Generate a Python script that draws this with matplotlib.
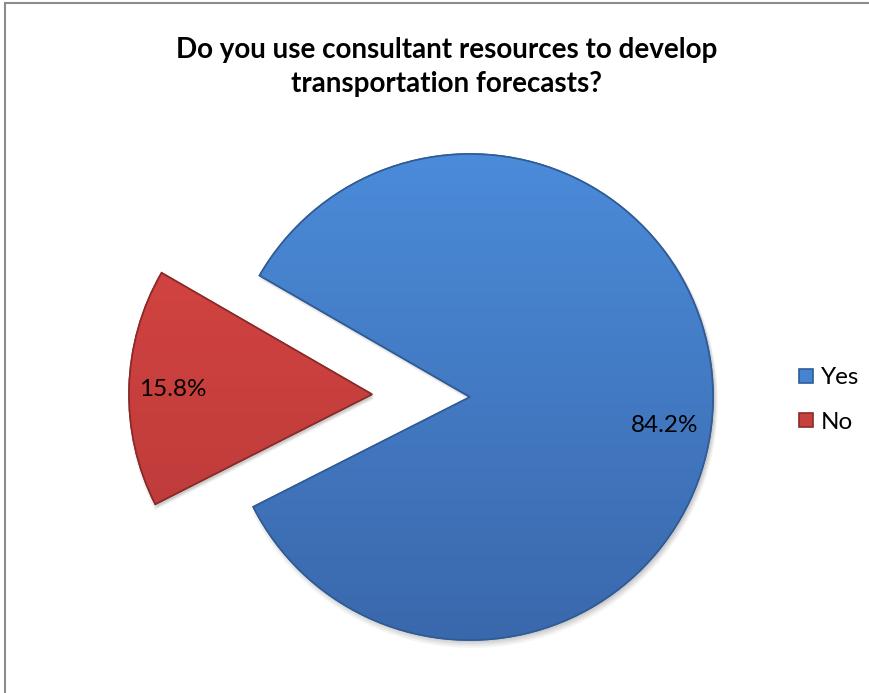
import matplotlib.pyplot as plt
from matplotlib.patches import Rectangle, Wedge
from matplotlib.colors import LinearSegmentedColormap
import numpy as np

# Survey answers
categories = ['Yes', 'No']
shares = [84.2, 15.8]
colors = ['#4683D0', '#C6403D']
edges = ['#2F5C96', '#8A2B29']
# top / bottom shades for the gradient fill
shades = [('#4B8BD9', '#3A68AC'), ('#DA4644', '#B53937')]

W, H = 870, 693
fig = plt.figure(figsize=(W / 100, H / 100), dpi=100)
fig.patch.set_facecolor('white')

# one axes covering the whole figure, data units = pixels
ax = fig.add_axes([0, 0, 1, 1])

cx, cy, r = 470, H - 397, 243
pull = 98  # how far the "No" slice is pulled out (pixels)

wedges, texts, autotexts = ax.pie(
    shares, colors=colors, explode=[0, pull], startangle=150,
    counterclock=False, center=(cx, cy), radius=r, frame=True,
    autopct='%1.1f%%', pctdistance=0.8,
    wedgeprops=dict(linewidth=1.2, zorder=2),
    textprops=dict(fontsize=17.5, family='Lato', color='black', zorder=5))
for w, ec in zip(wedges, edges):
    w.set_edgecolor(ec)
autotexts[0].set_y(autotexts[0].get_position()[1] - 23)
autotexts[1].set_x(autotexts[1].get_position()[0] - 5)

# vertical gradient inside each slice
grad = np.linspace(1, 0, 256).reshape(-1, 1)
for w, (top, bot) in zip(wedges, shades):
    cmap = LinearSegmentedColormap.from_list('g', [bot, top])
    x0, y0 = w.center
    im = ax.imshow(grad, cmap=cmap, vmin=0, vmax=1, aspect='auto',
                   extent=(x0 - w.r, x0 + w.r, y0 - w.r, y0 + w.r),
                   zorder=2.5, interpolation='bilinear')
    im.set_clip_path(w)
    # outline drawn again on top of the gradient
    ax.add_patch(Wedge(w.center, w.r, w.theta1, w.theta2, fill=False,
                       edgecolor=w.get_edgecolor(), lw=1.2, zorder=3))

# soft drop shadows under each slice
for w in wedges:
    for k, a in enumerate([0.04, 0.05, 0.06, 0.07]):
        ax.add_patch(Wedge((w.center[0] + 2, w.center[1] - 5 + k), w.r + 3 - k,
                           w.theta1, w.theta2, color='black', alpha=a,
                           lw=0, zorder=1))

ax.set_xlim(0, W)
ax.set_ylim(0, H)
ax.set_aspect('equal')
ax.axis('off')

fig.text(447 / W, 1 - 67 / H,
         'Do you use consultant resources to develop\ntransportation forecasts?',
         ha='center', va='center', fontsize=20, fontweight='bold',
         family='Lato', linespacing=1.4)

# legend on the right
leg = ax.legend(wedges, categories, loc='center left',
                bbox_to_anchor=(787 / W, 1 - 400 / H), frameon=False,
                prop=dict(family='Lato', size=17.5), handlelength=0.55,
                handleheight=0.55, handletextpad=0.35, labelspacing=0.95,
                borderpad=0)

# chart border
fig.add_artist(Rectangle((5 / W, -0.1), 1.1, 1.1 - 3 / H,
                         transform=fig.transFigure, fill=False,
                         edgecolor='#8C8C8C', lw=1.5))

fig.savefig('out.png', dpi=100)
